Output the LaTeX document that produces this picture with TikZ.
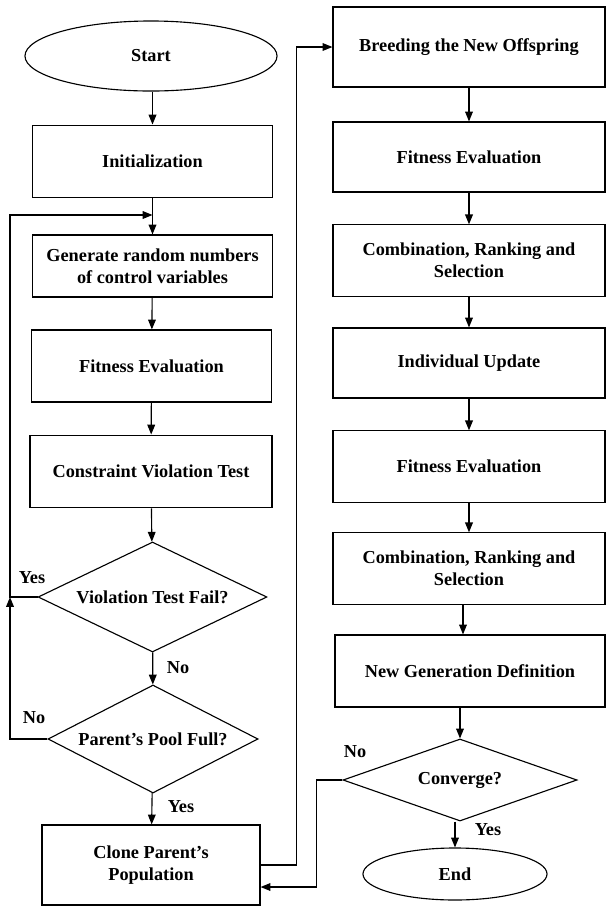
\documentclass[tikz,border=0pt]{standalone}
\usepackage{fontspec}
\setmainfont{Liberation Serif}
\usetikzlibrary{shapes.geometric,arrows.meta,calc}
\begin{document}
\begin{tikzpicture}[
    x=0.025cm, y=-0.025cm,
    every node/.style={
        align=center, inner sep=0pt,
        font=\fontsize{13}{15.5}\selectfont\bfseries
    },
    box/.style={draw, line width=0.8pt},
    term/.style={draw, ellipse, line width=0.8pt},
    decision/.style={draw, diamond, aspect=2, line width=0.8pt},
    arrow/.style={-{Triangle[length=7pt,width=5.5pt]}, line width=0.8pt}
]
  \useasboundingbox (0,0) rectangle (607,910);

  % Left column
  \node[term] (start)  at (151,56)    [minimum width=6.3cm, minimum height=1.75cm] {Start};
  \node[box]  (init)   at (152.5,161.5) [minimum width=6.0cm, minimum height=1.82cm] {Initialization};
  \node[box]  (gen)    at (152.5,266) [minimum width=6.0cm, minimum height=1.55cm] {Generate random numbers\\of control variables};
  \node[box]  (fit)    at (151.5,366) [minimum width=6.0cm, minimum height=1.8cm] {Fitness Evaluation};
  \node[box]  (cons)   at (151,471.5) [minimum width=6.05cm, minimum height=1.82cm] {Constraint Violation Test};
  \node[decision] (viol) at (152.5,597) [minimum width=5.72cm, minimum height=2.75cm] {Violation Test Fail?};
  \node[decision] (pool) at (153,739) [minimum width=5.25cm, minimum height=2.7cm] {Parent's Pool Full?};
  \node[box]  (clone)  at (151,865)   [minimum width=5.45cm, minimum height=2.0cm] {Clone Parent's\\Population};

  % Right column
  \node[box]  (breed)  at (469,47)    [minimum width=6.8cm, minimum height=2.0cm] {Breeding the New Offspring};
  \node[box]  (fit2)   at (469,157)   [minimum width=6.8cm, minimum height=1.75cm] {Fitness Evaluation};
  \node[box]  (comb)   at (469,260.5) [minimum width=6.8cm, minimum height=1.78cm] {Combination, Ranking and\\Selection};
  \node[box]  (upd)    at (469,363)   [minimum width=6.8cm, minimum height=1.75cm] {Individual Update};
  \node[box]  (fit3)   at (469,466.5) [minimum width=6.8cm, minimum height=1.78cm] {Fitness Evaluation};
  \node[box]  (comb2)  at (469,568.5) [minimum width=6.8cm, minimum height=1.78cm] {Combination, Ranking and\\Selection};
  \node[box]  (newgen) at (470,671)   [minimum width=6.75cm, minimum height=1.8cm] {New Generation Definition};
  \node[decision] (conv) at (460,780) [minimum width=5.85cm, minimum height=2.05cm] {Converge?};
  \node[term] (fin)    at (455,874)   [minimum width=4.6cm, minimum height=1.3cm] {End};

  % Branch labels
  \node (yes1) at (32,578)  {Yes};
  \node (no1)  at (178,668) {No};
  \node (no2)  at (34,718)  {No};
  \node (yes2) at (181,807) {Yes};
  \node (no3)  at (355,752) {No};
  \node (yes3) at (488,830) {Yes};

  % Main flow
  \draw[arrow] (start.south -| init.north) -- (init.north);
  \draw[arrow] (init) -- (gen);
  \draw[arrow] (gen) -- (fit);
  \draw[arrow] (fit) -- (cons);
  \draw[arrow] (cons) -- (viol);
  \draw[arrow] (viol) -- (pool);
  \draw[arrow] (pool) -- (clone);
  \draw[arrow] (breed) -- (fit2);
  \draw[arrow] (fit2) -- (comb);
  \draw[arrow] (comb) -- (upd);
  \draw[arrow] (upd) -- (fit3);
  \draw[arrow] (fit3) -- (comb2);
  \draw[arrow] (comb2.south -| 463,0) -- (newgen.north -| 463,0);
  \draw[arrow] (newgen.south -| conv.north) -- (conv.north);
  \draw[arrow] (conv.south -| fin.north) -- (fin.north);

  % Feedback loops
  \coordinate (loopin) at (152.5,215);
  \coordinate (jn) at (10,597);
  \draw[arrow] (viol.west) -- (jn) |- (loopin);
  \draw[arrow] (pool.west) -| (jn);
  \draw[arrow] (clone.east) -- ++(36,0) |- (breed.west);
  \draw[arrow] (conv.west) -- ++(-26,0) |- ($(clone.east)+(0,22)$);
\end{tikzpicture}
\end{document}
